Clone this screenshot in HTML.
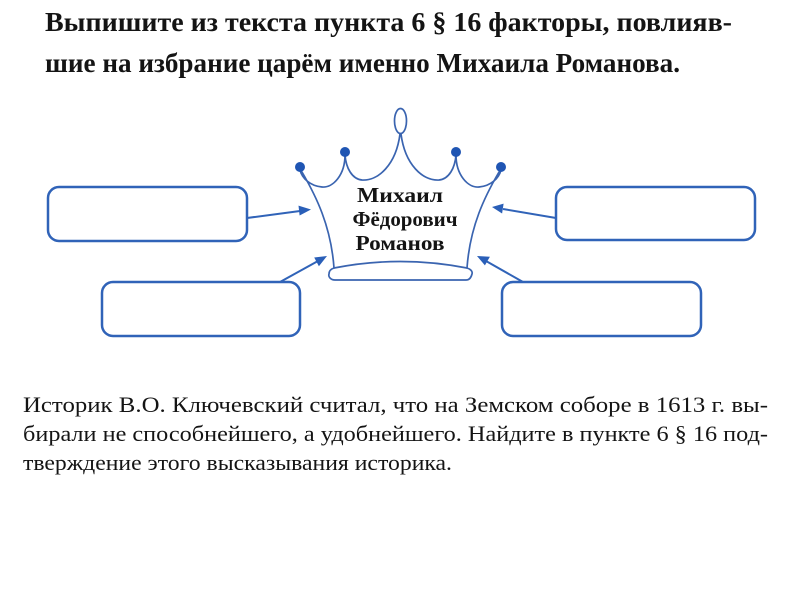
<!DOCTYPE html>
<html>
<head>
<meta charset="utf-8">
<style>
  html, body { margin: 0; padding: 0; background: #fff; }
  svg { display: block; }
  .t { font-family: "Liberation Serif", "DejaVu Serif", serif; fill: #141414; }
</style>
</head>
<body>
<svg width="800" height="600" viewBox="0 0 800 600" xmlns="http://www.w3.org/2000/svg">
  <rect x="0" y="0" width="800" height="600" fill="#fff"/>

  <!-- Title -->
  <text class="t" x="45" y="31" font-size="27" font-weight="bold" textLength="687" lengthAdjust="spacingAndGlyphs">Выпишите из текста пункта 6 § 16 факторы, повлияв-</text>
  <text class="t" x="45" y="72" font-size="27" font-weight="bold" textLength="635" lengthAdjust="spacingAndGlyphs">шие на избрание царём именно Михаила Романова.</text>

  <!-- Crown -->
  <g fill="none" stroke="#3a64b0" stroke-width="1.7" stroke-linecap="round" stroke-linejoin="round">
    <ellipse cx="400.5" cy="121" rx="6" ry="12.5"/>
    <path d="M400,134 C396,165 378,181 362,180 C352,179 346,168 345,155"/>
    <path d="M345,155 C345,175 333,188 322,187 C310,186 302,178 300,170"/>
    <path d="M401,134 C405,165 423,181 439,180 C449,179 455,168 456,155"/>
    <path d="M456,155 C456,175 468,188 479,187 C491,186 499,178 501,170"/>
    <path d="M302,172 C316,196 331,226 334,268"/>
    <path d="M499,172 C485,196 470,226 467,268"/>
    <path d="M334,268 Q400,255 467,268 C470,269 473,271 472,274 C471,278 469,280 466,280 L335,280 C331,280 328,277 329,274 C329,271 331,269 334,268 Z"/>
  </g>
  <g fill="#1f55b3">
    <circle cx="300" cy="167" r="5"/>
    <circle cx="345" cy="152" r="5"/>
    <circle cx="456" cy="152" r="5"/>
    <circle cx="501" cy="167" r="5"/>
  </g>

  <!-- Crown text -->
  <text class="t" x="400" y="202" font-size="21" font-weight="bold" text-anchor="middle" textLength="86" lengthAdjust="spacingAndGlyphs">Михаил</text>
  <text class="t" x="405" y="226" font-size="21" font-weight="bold" text-anchor="middle" textLength="105" lengthAdjust="spacingAndGlyphs">Фёдорович</text>
  <text class="t" x="400" y="250" font-size="21" font-weight="bold" text-anchor="middle" textLength="89" lengthAdjust="spacingAndGlyphs">Романов</text>

  <!-- Boxes -->
  <g fill="none" stroke="#3063b8" stroke-width="2.5">
    <rect x="48" y="187" width="199" height="54" rx="11" ry="11"/>
    <rect x="102" y="282" width="198" height="54" rx="11" ry="11"/>
    <rect x="556" y="187" width="199" height="53" rx="11" ry="11"/>
    <rect x="502" y="282" width="199" height="54" rx="11" ry="11"/>
  </g>

  <!-- Arrows -->
  <g stroke="#3063b8" stroke-width="2" fill="none">
    <line x1="247" y1="218" x2="300" y2="211"/>
    <line x1="280" y1="282" x2="318" y2="261"/>
    <line x1="556" y1="218" x2="503" y2="209"/>
    <line x1="523" y1="282" x2="486" y2="261"/>
  </g>
  <g fill="#2a5fb8">
    <polygon points="311,209.5 298.5,205.6 299.6,215.5"/>
    <polygon points="327,256 314.2,257.5 318.9,266.3"/>
    <polygon points="492,207 503.6,203.6 502.1,213.5"/>
    <polygon points="477,256 489.9,256.7 484.9,265.4"/>
  </g>

  <!-- Paragraph -->
  <text class="t" x="23" y="412" font-size="22" textLength="745" lengthAdjust="spacingAndGlyphs">Историк В.О. Ключевский считал, что на Земском соборе в 1613 г. вы-</text>
  <text class="t" x="23" y="441" font-size="22" textLength="745" lengthAdjust="spacingAndGlyphs">бирали не способнейшего, а удобнейшего. Найдите в пункте 6 § 16 под-</text>
  <text class="t" x="23" y="470" font-size="22" textLength="429" lengthAdjust="spacingAndGlyphs">тверждение этого высказывания историка.</text>
</svg>
</body>
</html>
